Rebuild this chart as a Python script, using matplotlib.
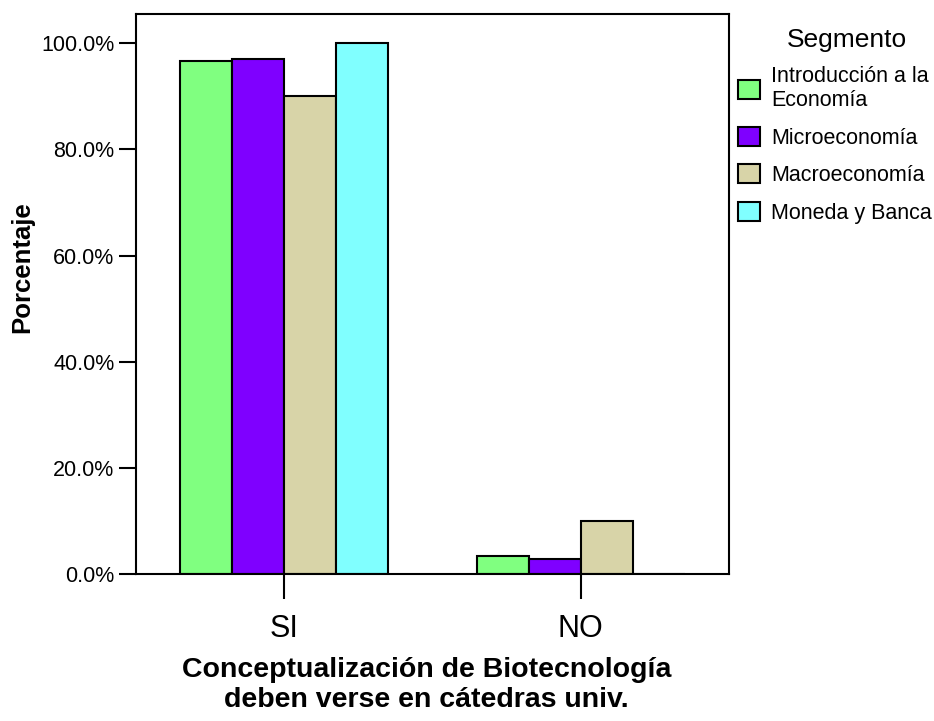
import matplotlib
matplotlib.use("Agg")
import matplotlib.pyplot as plt
import numpy as np
from matplotlib.patches import Patch

categories = ["SI", "NO"]
segments = ["Introducción a la\nEconomía", "Microeconomía", "Macroeconomía", "Moneda y Banca"]
values = {
    "Introducción a la\nEconomía": [96.7, 3.3],
    "Microeconomía": [97.1, 2.9],
    "Macroeconomía": [90.0, 10.0],
    "Moneda y Banca": [100.0, 0.0],
}
colors = ["#80ff80", "#7f00ff", "#d8d4a8", "#80ffff"]
yticks = [0, 20, 40, 60, 80, 100]

plt.rcParams["font.family"] = ["Liberation Sans", "DejaVu Sans"]

fig = plt.figure(figsize=(9.34, 7.21), dpi=100)
ax = fig.add_axes([136/934, 1 - 574/721, (729-136)/934, (574-14)/721])

x = np.arange(len(categories))
w = 0.175
for i, seg in enumerate(segments):
    ax.bar(x + (i - 1.5) * w, values[seg], width=w, color=colors[i],
           edgecolor="black", linewidth=1.5, label=seg, zorder=2)

ax.set_xlim(-0.5, 1.5)
ax.set_ylim(0, 105.5)
ax.set_yticks(yticks)
ax.set_yticklabels([f"{v:.1f}%" for v in yticks], fontsize=15.5)
ax.set_xticks(x)
ax.set_xticklabels(categories, fontsize=22)
ax.tick_params(axis="y", length=12, width=1.5, pad=3.5)
ax.tick_params(axis="x", length=18, width=1.5, pad=10.5)
for s in ax.spines.values():
    s.set_linewidth(1.5)

ax.set_ylabel("Porcentaje", fontsize=18.5, fontweight="bold")
ax.yaxis.set_label_coords(-0.172, 0.548)
ax.set_xlabel("Conceptualización de Biotecnología\ndeben verse en cátedras univ.",
              fontsize=20.5, fontweight="bold", linespacing=1.2)
ax.xaxis.set_label_coords(0.49, -0.148)

handles = [Patch(facecolor=c, edgecolor="black", linewidth=1.5) for c in colors]
fig.legend(handles, segments, loc="upper left", bbox_to_anchor=(738/934, 1 - 66/721),
           frameon=False, handlelength=1.0, handleheight=1.0,
           handletextpad=0.55, labelspacing=0.72, borderpad=0, borderaxespad=0,
           prop={"size": 15.5})
fig.text(847/934, 1 - 40/721, "Segmento", fontsize=19, ha="center", va="center")

fig.savefig("out.png", dpi=100)
